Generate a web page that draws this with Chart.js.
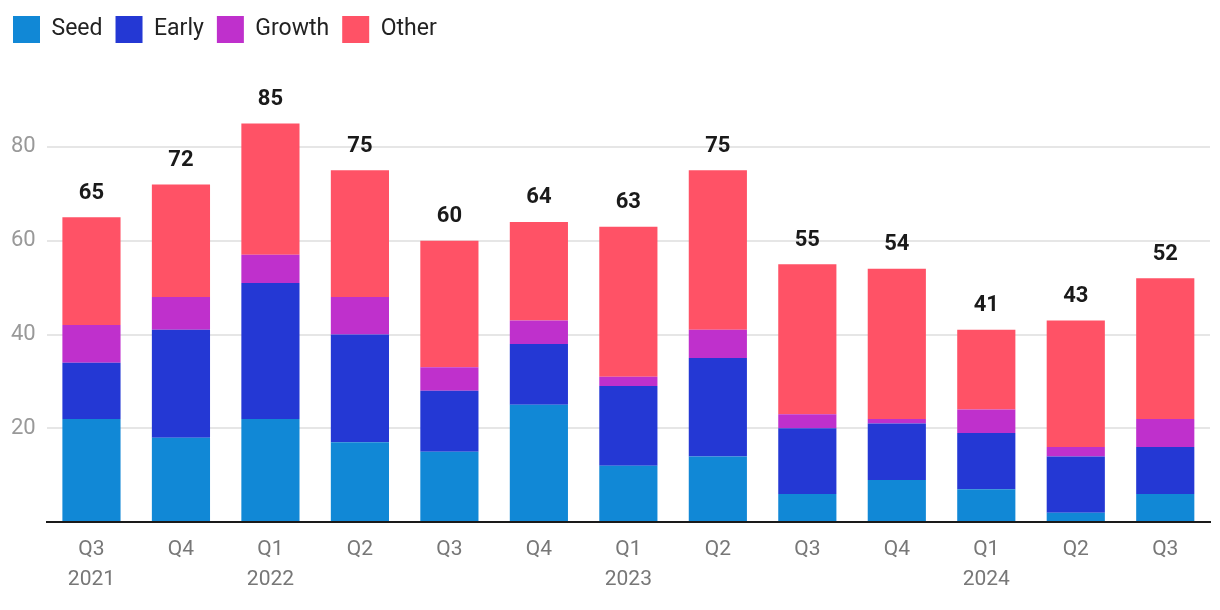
<!DOCTYPE html>
<html>
<head>
<meta charset="utf-8">
<script src="https://cdn.jsdelivr.net/npm/chart.js@4"></script>
<style>
  html, body { margin: 0; padding: 0; background: #fff; }
  #wrap { width: 1220px; height: 610px; }
</style>
</head>
<body>
<div id="wrap"><canvas id="chart"></canvas></div>
<script>
// Funding rounds per quarter, stacked by stage
const QUARTERS = [['Q3', '2021'], ['Q4', ''], ['Q1', '2022'], ['Q2', ''], ['Q3', ''], ['Q4', ''],
    ['Q1', '2023'], ['Q2', ''], ['Q3', ''], ['Q4', ''], ['Q1', '2024'], ['Q2', ''], ['Q3', '']];
const SEED   = [22, 18, 22, 17, 15, 25, 12, 14, 6, 9, 7, 2, 6];
const EARLY  = [12, 23, 29, 23, 13, 13, 17, 21, 14, 12, 12, 12, 10];
const GROWTH = [8, 7, 6, 8, 5, 5, 2, 6, 3, 1, 5, 2, 6];
const OTHER  = [23, 24, 28, 27, 27, 21, 32, 34, 32, 32, 17, 27, 30];
const Y_TICKS = [0, 20, 40, 60, 80];

const COLORS = { seed: '#1188d6', early: '#2438d4', growth: '#bf30cc', other: '#ff5266' };
const FONT = 'Roboto';

const totals = SEED.map((v, i) => v + EARLY[i] + GROWTH[i] + OTHER[i]);

// draws the total above each stack
const totalLabels = {
    id: 'totalLabels',
    afterDatasetsDraw(chart) {
        const ctx = chart.ctx;
        const last = chart.getDatasetMeta(chart.data.datasets.length - 1);
        ctx.save();
        ctx.font = 'bold 22px ' + FONT;
        ctx.fillStyle = '#1a1a1a';
        ctx.textAlign = 'center';
        ctx.textBaseline = 'bottom';
        last.data.forEach((bar, i) => {
            ctx.fillText(totals[i], bar.x, bar.y - 13);
        });
        ctx.restore();
    }
};

// extra room under the legend
const legendGap = {
    id: 'legendGap',
    beforeInit(chart) {
        const fit = chart.legend.fit;
        chart.legend.fit = function () {
            fit.call(this);
            this.height += 47;
        };
    }
};

function ds(label, data, color) {
    return { label, data, backgroundColor: color, barPercentage: 0.65, categoryPercentage: 1 };
}

new Chart(document.getElementById('chart'), {
    type: 'bar',
    data: {
        labels: QUARTERS,
        datasets: [
            ds('Seed', SEED, COLORS.seed),
            ds('Early', EARLY, COLORS.early),
            ds('Growth', GROWTH, COLORS.growth),
            ds('Other', OTHER, COLORS.other)
        ]
    },
    options: {
        responsive: true,
        maintainAspectRatio: false,
        animation: false,
        layout: { padding: { left: 0, right: 10, top: 3, bottom: 3 } },
        plugins: {
            legend: {
                position: 'top',
                align: 'start',
                labels: {
                    boxWidth: 27, boxHeight: 27, padding: 13,
                    color: '#222', font: { family: FONT, size: 23 }
                }
            },
            tooltip: { enabled: false }
        },
        scales: {
            x: {
                stacked: true,
                grid: { display: false, drawTicks: false },
                border: { color: '#1a1a1a', width: 2 },
                ticks: {
                    color: '#777', font: { family: FONT, size: 21, lineHeight: 1.45 },
                    padding: 12, maxRotation: 0, autoSkip: false
                }
            },
            y: {
                stacked: true,
                min: 0, max: 90,
                afterBuildTicks: (axis) => { axis.ticks = Y_TICKS.map(v => ({ value: v })); },
                grid: { color: '#e6e6e6', lineWidth: 2, drawTicks: false },
                border: { display: false },
                ticks: {
                    color: '#999', font: { family: FONT, size: 22 }, padding: 11,
                    callback: (v) => v === 0 ? '' : v
                }
            }
        }
    },
    plugins: [totalLabels, legendGap]
});
</script>
</body>
</html>
